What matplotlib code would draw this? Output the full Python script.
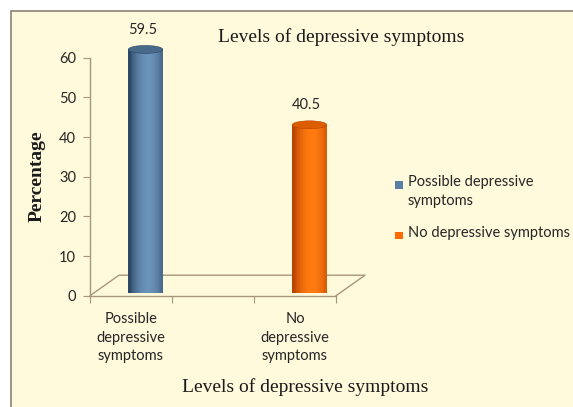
import numpy as np
import matplotlib
matplotlib.use("Agg")
from matplotlib import pyplot as plt
from matplotlib.patches import Rectangle, Ellipse, PathPatch
from matplotlib.path import Path
from matplotlib.colors import to_rgb

# Data
categories = ["Possible\ndepressive\nsymptoms", "No\ndepressive\nsymptoms"]
legend_labels = ["Possible depressive\nsymptoms", "No depressive symptoms"]
values = [59.5, 40.5]
value_labels = ["59.5", "40.5"]
yticks = [0, 10, 20, 30, 40, 50, 60]

# Styling
bg = "#FFFADC"
axis_col = "#A8957E"
frame_col = "#8E8272"
body_dark = ["#2B4866", "#B94300"]
body_light = ["#6B92B9", "#FF7A10"]
top_col = ["#47698A", "#DC5C00"]
legend_col = ["#5A7FA5", "#FF6A00"]
sans = ["Lato", "DejaVu Sans"]
serif = ["Liberation Serif", "DejaVu Serif"]

DEPTH_X = 0.354   # depth of the 3D floor, in slot units
DEPTH_Y = 5.17    # depth of the 3D floor, in value units
BAR_W = 0.42
ELL_H = 2.0

W, H = 573, 407
fig = plt.figure(figsize=(W / 100, H / 100), dpi=100)
fig.patch.set_facecolor("white")

# chart frame
fig.patches.append(Rectangle((10.5 / W, -0.2), 2.0, (H - 11.5) / H + 0.2,
                             transform=fig.transFigure, facecolor=bg,
                             edgecolor=frame_col, linewidth=1.2, zorder=-5))

ax = fig.add_axes([90 / W, (H - 295.7) / H, (336 - 90) / W, (295.7 - 57.7) / H])
ax.set_zorder(2)
ax.set_facecolor("none")
ax.set_xlim(-0.5, 2.5)
ax.set_ylim(0, 60)

for s in ["top", "right"]:
    ax.spines[s].set_visible(False)
for s in ["left", "bottom"]:
    ax.spines[s].set_color(axis_col)
    ax.spines[s].set_linewidth(1.0)

ax.set_yticks(yticks)
ax.set_yticklabels([str(t) for t in yticks], fontsize=10.5, family=sans, color="#262626")
ax.tick_params(axis="y", direction="out", length=5, color=axis_col, pad=5)

# slot boundaries as major ticks, category names as minor ticks
positions = np.arange(len(categories)) * 2
ax.set_xticks([-0.5, 0.5, 1.5, 2.5])
ax.set_xticklabels([])
ax.tick_params(axis="x", which="major", direction="out", length=5, color=axis_col)
ax.set_xticks(positions, minor=True)
ax.set_xticklabels(categories, minor=True, fontsize=10.5, family=sans, color="#262626",
                   linespacing=1.4)
ax.tick_params(axis="x", which="minor", length=0, pad=12)

# 3D floor
x0, x1 = ax.get_xlim()
floor_x = [x0, x0 + DEPTH_X, x1 + DEPTH_X, x1]
floor_y = [0, DEPTH_Y, DEPTH_Y, 0]
ax.plot(floor_x, floor_y, color=axis_col, lw=1.0, clip_on=False, zorder=1)

# cylinders
n_strips = 60
for i, (p, v) in enumerate(zip(positions, values)):
    cx = p + DEPTH_X / 2
    base = DEPTH_Y / 2
    L, R = cx - BAR_W / 2, cx + BAR_W / 2
    th = np.linspace(np.pi, 2 * np.pi, 40)
    arc = np.column_stack([cx + BAR_W / 2 * np.cos(th), base + ELL_H / 2 * np.sin(th)])
    verts = np.vstack([[L, base + v], [L, base], arc, [R, base + v], [L, base + v]])
    codes = [Path.MOVETO] + [Path.LINETO] * (len(verts) - 2) + [Path.CLOSEPOLY]
    clip = PathPatch(Path(verts, codes), facecolor="none", edgecolor="none",
                     transform=ax.transData, clip_on=False)
    ax.add_patch(clip)
    dark = np.array(to_rgb(body_dark[i]))
    light = np.array(to_rgb(body_light[i]))
    edges = np.linspace(L, R, n_strips + 1)
    for k in range(n_strips):
        s = (edges[k] + edges[k + 1]) / 2
        s = (s - cx) / (BAR_W / 2)
        b = np.clip(np.cos((s - 0.15) * np.pi / 2.1), 0, 1) ** 0.8
        col = dark + (light - dark) * b
        r = Rectangle((edges[k], base - ELL_H), edges[k + 1] - edges[k] + 0.002,
                      v + ELL_H, facecolor=col, edgecolor="none", zorder=3, clip_on=False)
        ax.add_patch(r)
        r.set_clip_path(clip)
    ax.add_patch(Ellipse((cx, base + v), BAR_W, ELL_H, facecolor=top_col[i],
                         edgecolor=body_dark[i], lw=0.4, zorder=4, clip_on=False))
    ax.annotate(value_labels[i], xy=(cx, base + v), xytext=(-2, 14),
                textcoords="offset points", ha="center", va="center",
                fontsize=10.5, family=sans, color="#262626", annotation_clip=False)

# titles
fig.text(341 / W, 1 - 37 / H, "Levels of depressive symptoms", ha="center", va="center",
         fontsize=14, family=serif, color="#1A1A1A")
fig.text(305 / W, 1 - 387 / H, "Levels of depressive symptoms", ha="center", va="center",
         fontsize=14, family=serif, color="#1A1A1A")
fig.text(37 / W, 1 - 176 / H, "Percentage", ha="center", va="center", rotation=90,
         fontsize=14, family=serif, fontweight="bold", color="#1A1A1A")

# legend (drawn by hand to get Excel-like line spacing)
legend_top = [175, 226]
for lab, c, yt in zip(legend_labels, legend_col, legend_top):
    fig.patches.append(Rectangle((395 / W, 1 - (yt + 13.5) / H), 7.5 / W, 7.5 / H,
                                 transform=fig.transFigure, facecolor=c,
                                 edgecolor="none", zorder=3))
    fig.text(408 / W, 1 - yt / H, lab, ha="left", va="top", fontsize=10.5,
             family=sans, color="#262626", linespacing=1.45)

fig.savefig("out.png", dpi=100, facecolor="white")
